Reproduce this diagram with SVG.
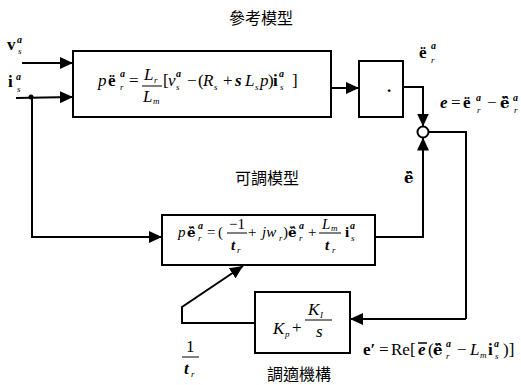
<svg xmlns="http://www.w3.org/2000/svg" width="521" height="385" viewBox="0 0 521 385">
<defs>
<marker id="ah" markerUnits="userSpaceOnUse" markerWidth="14" markerHeight="12" refX="13" refY="6" orient="auto">
<path d="M0,0 L13,6 L0,12 Z" fill="#000"/>
</marker>
<style>
.box{fill:#fff;stroke:#000;stroke-width:2}
.ln{fill:none;stroke:#000;stroke-width:2}
.ar{fill:none;stroke:#000;stroke-width:2;marker-end:url(#ah)}
.cjk{font-family:"Noto Sans CJK TC","Noto Sans CJK SC",sans-serif;font-size:16px;fill:#000}
.m{font-family:"Liberation Serif",serif;font-size:17px;fill:#000}
.m2{font-family:"Liberation Serif",serif;font-size:15px;fill:#000}
.h{font-family:"DejaVu Serif",serif;font-size:15px;font-weight:bold;fill:#000}
.h2{font-family:"DejaVu Serif",serif;font-size:13.5px;font-weight:bold;fill:#000}
.i{font-style:italic}
.b{font-weight:bold}
.sup{font-family:"Liberation Serif",serif;font-size:10px;font-weight:bold;font-style:italic}
.sub{font-family:"Liberation Serif",serif;font-size:9px;font-style:italic}
</style>
</defs>

<g id="connectors">
<line class="ar" x1="22" y1="63" x2="73" y2="63"/>
<line class="ar" x1="16" y1="98" x2="73" y2="97"/>
<circle cx="31" cy="97" r="2.5" fill="#000"/>
<polyline class="ar" points="32,97 32,237 162,237"/>
<line class="ar" x1="331" y1="88" x2="359" y2="88"/>
<polyline class="ar" points="403,87 423,87 423,126.5"/>
<polyline class="ln" points="428.5,132 466,132 466,319"/>
<polyline class="ar" points="466,319 350,319"/>
<polyline class="ar" points="375,237 423,237 423,137.5"/>
<polyline class="ar" points="255,323 182,323 182,307 243,266"/>
<circle cx="423" cy="132" r="5.5" fill="#fff" stroke="#000" stroke-width="2"/>
</g>

<g id="inputs">
<text class="m b" x="7" y="50">v</text><text class="sup" x="17" y="43">a</text><text class="sub" x="18" y="54">s</text>
<text class="m b" x="8" y="87">i</text><text class="sup" x="16" y="80">a</text><text class="sub" x="17" y="92">s</text>
</g>

<g id="reference-model">
<text class="cjk" x="261" y="24" text-anchor="middle">參考模型</text>
<rect class="box" x="73" y="51" width="258" height="66"/>
<text class="m i" x="98" y="86">p</text>
<text class="m b" x="108" y="86">ë</text><text class="sup" x="120" y="77">a</text><text class="sub" x="120" y="90">r</text>
<text class="m" x="129" y="86">=</text>
<text class="m i" x="144" y="80">L</text><text class="sub" x="154" y="83">r</text>
<line x1="142" y1="86" x2="162" y2="86" stroke="#000" stroke-width="1"/>
<text class="m i" x="143" y="102">L</text><text class="sub" x="153" y="104">m</text>
<text class="m" x="163" y="86">[</text>
<text class="m i" x="168" y="86">v</text><text class="sup" x="176" y="77">a</text><text class="sub" x="176" y="90">s</text>
<text class="m" x="187" y="86">−</text>
<text class="m" x="198" y="86">(</text>
<text class="m i" x="203" y="86">R</text><text class="sub" x="214" y="90">s</text>
<text class="m" x="223" y="86">+</text>
<text class="m b i" x="235" y="86">s</text>
<text class="m i" x="245" y="86">L</text><text class="sub" x="255" y="90">s</text>
<text class="m i" x="260" y="86">p</text>
<text class="m" x="268" y="86">)</text>
<text class="m b" x="273" y="86">i</text><text class="sup" x="279" y="77">a</text><text class="sub" x="280" y="90">s</text>
<text class="m" x="292" y="86">]</text>
</g>

<g id="derivative">
<rect class="box" x="359" y="61" width="44" height="56"/>
<text class="m b" x="387" y="92">.</text>
</g>

<g id="labels-right">
<text class="m b" x="419" y="58">ë</text><text class="sup" x="431" y="49">a</text><text class="sub" x="431" y="63">r</text>
<text class="m b i" x="440" y="108">e</text>
<text class="m" x="451" y="108">=</text>
<text class="m b" x="463" y="108">ë</text><text class="sup" x="476" y="101">a</text><text class="sub" x="477" y="113">r</text>
<text class="m" x="487" y="108">−</text>
<text class="h" x="500" y="108">ë̂</text><text class="sup" x="513" y="101">a</text><text class="sub" x="514" y="113">r</text>
<text class="h" x="404" y="183">ë̂</text>
</g>

<g id="adjustable-model">
<text class="cjk" x="267" y="184" text-anchor="middle">可調模型</text>
<rect class="box" x="162" y="215" width="213" height="50"/>
<text class="m2 i" x="178" y="237">p</text>
<text class="h2" x="187" y="237">ë̂</text><text class="sup" x="198" y="229">a</text><text class="sub" x="198" y="241">r</text>
<text class="m2" x="207" y="237">=</text>
<text class="m2" x="218" y="237">(</text>
<text class="m2" x="229" y="229">−1</text>
<line x1="227" y1="233" x2="247" y2="233" stroke="#000" stroke-width="1"/>
<text class="m2 b i" x="231" y="250">t</text><text class="sub" x="237" y="253">r</text>
<text class="m2" x="248" y="237">+</text>
<text class="m2 i" x="262" y="237">jw</text><text class="sub" x="279" y="241">r</text>
<text class="m2" x="283" y="237">)</text>
<text class="h2" x="288" y="237">ë̂</text><text class="sup" x="299" y="229">a</text><text class="sub" x="299" y="241">r</text>
<text class="m2" x="308" y="237">+</text>
<text class="m2 i" x="322" y="229">L</text><text class="sub" x="331" y="231">m</text>
<line x1="319" y1="233" x2="341" y2="233" stroke="#000" stroke-width="1"/>
<text class="m2 b i" x="325" y="250">t</text><text class="sub" x="332" y="253">r</text>
<text class="m2 b" x="345" y="237">i</text><text class="sup" x="350" y="229">a</text><text class="sub" x="351" y="241">s</text>
</g>

<g id="adaptation">
<rect class="box" x="255" y="292" width="95" height="61"/>
<text class="m i" x="273" y="334">K</text><text class="sub" x="285" y="337">p</text>
<text class="m" x="292" y="333">+</text>
<text class="m i" x="308" y="315">K</text><text class="sub" x="320" y="318">I</text>
<line x1="305" y1="320" x2="332" y2="320" stroke="#000" stroke-width="1"/>
<text class="m i" x="316" y="337">s</text>
<text class="cjk" x="299" y="380" text-anchor="middle">調適機構</text>
</g>

<g id="tau-label">
<text class="m" x="186" y="352">1</text>
<line x1="182" y1="357" x2="199" y2="357" stroke="#000" stroke-width="1"/>
<text class="m b i" x="184" y="374">t</text><text class="sub" x="191" y="377">r</text>
</g>

<g id="error-label">
<text class="m b" x="363" y="355">e′</text>
<text class="m" x="379" y="355">=</text>
<text class="m" x="391" y="355">Re[</text>
<text class="m b i" x="418" y="355">e</text><line x1="418" y1="343" x2="427" y2="343" stroke="#000" stroke-width="1.5"/>
<text class="m" x="428" y="355">(</text>
<text class="h" x="433" y="355">ë̂</text><text class="sup" x="446" y="347">a</text><text class="sub" x="446" y="359">r</text>
<text class="m" x="457" y="355">−</text>
<text class="m i" x="470" y="355">L</text><text class="sub" x="480" y="358">m</text>
<text class="m b" x="488" y="355">i</text><text class="sup" x="494" y="347">a</text><text class="sub" x="495" y="359">s</text>
<text class="m" x="503" y="355">)]</text>
</g>
</svg>
